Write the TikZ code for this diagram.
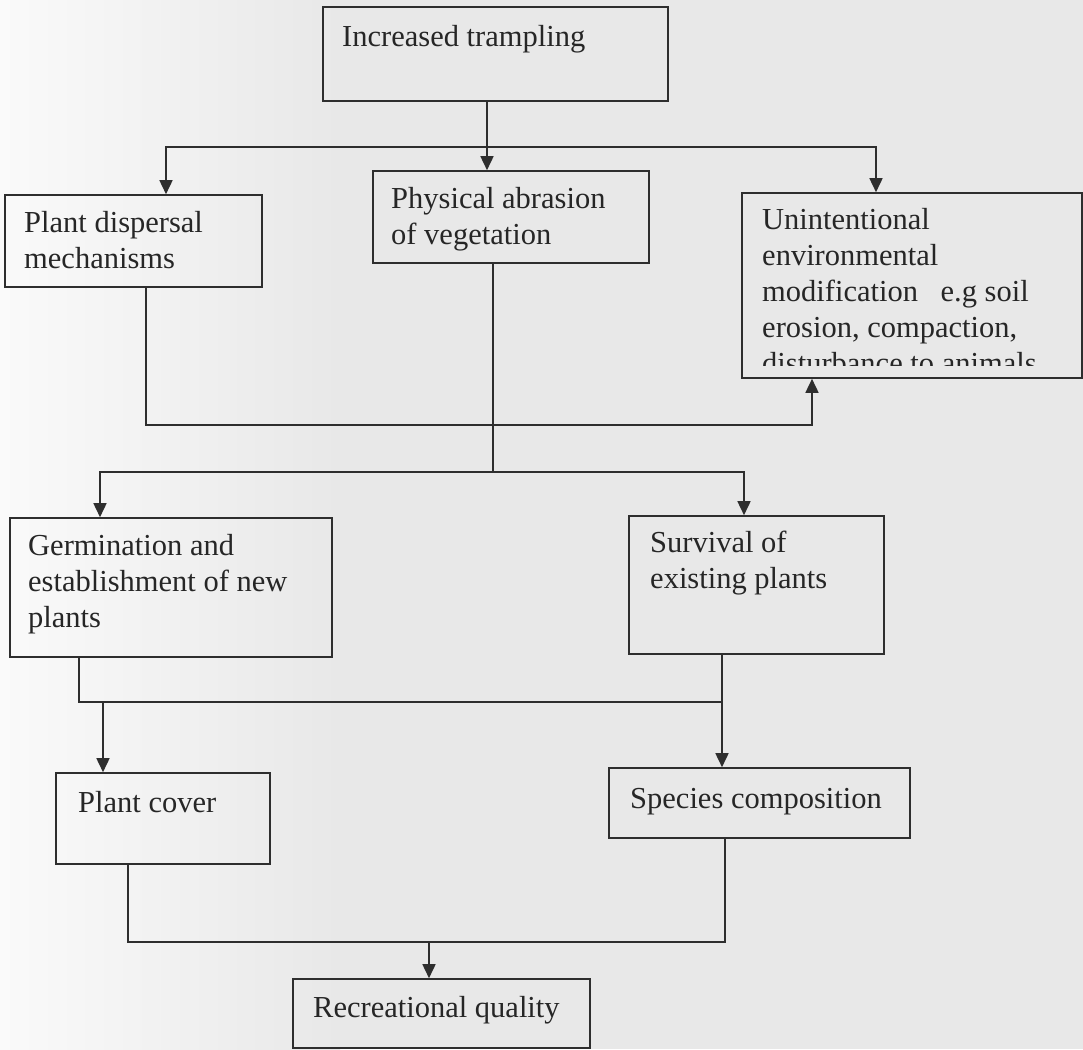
\documentclass[tikz,border=0pt]{standalone}
\usepackage{fontspec}
\setmainfont{Liberation Serif}
\usetikzlibrary{arrows.meta,fit}
\definecolor{bggray}{HTML}{E8E8E8}
\definecolor{bgwhite}{HTML}{FAFAFA}
\definecolor{inkc}{HTML}{2E2E2E}
\definecolor{textc}{HTML}{262626}
\tikzset{
  box/.style={draw=inkc, line width=1.6pt, inner sep=0pt, rectangle},
  txt/.style={font=\fontsize{30.5}{36}\selectfont, text=textc, inner sep=0pt, anchor=base west, align=left},
  conn/.style={draw=inkc, line width=1.6pt},
  arr/.style={conn, -{Triangle[width=13pt,length=14pt]}}
}
\begin{document}
\begin{tikzpicture}[x=1pt,y=-1pt]
\useasboundingbox (0,0) rectangle (1083,1049);
\fill[bggray] (0,0) rectangle (1083,1049);
\shade[left color=bgwhite, right color=bggray] (0,0) rectangle (340,1049);

% boxes
\node[box, fit={(323,7) (668,101)}] (inc) {};
\node[box, fit={(5,195) (262,287)}] (disp) {};
\node[box, fit={(373,171) (649,263)}] (phys) {};
\node[box, fit={(742,193) (1082,378)}] (unint) {};
\node[box, fit={(10,518) (332,657)}] (germ) {};
\node[box, fit={(629,516) (884,654)}] (surv) {};
\node[box, fit={(56,773) (270,864)}] (cover) {};
\node[box, fit={(609,768) (910,838)}] (species) {};
\node[box, fit={(293,979) (590,1048)}] (recr) {};

% texts (anchor = baseline of the last line)
\node[txt] (inc-t) at (342,46) {Increased trampling};
\node[txt] (disp-t) at (24,268) {Plant dispersal\\mechanisms};
\node[txt] (phys-t) at (391,244) {Physical abrasion\\of vegetation};
\begin{scope}
\clip (742,193) rectangle (1082,365);
\node[txt] (unint-t) at (762,373) {Unintentional\\environmental\\modification\hspace{15pt} e.g soil\\erosion, compaction,\\disturbance to animals};
\end{scope}
\node[txt] (germ-t) at (28,627) {Germination and\\establishment of new\\plants};
\node[txt] (surv-t) at (650,588) {Survival of\\existing plants};
\node[txt] (cover-t) at (78,812) {Plant cover};
\node[txt] (species-t) at (630,808) {Species composition};
\node[txt] (recr-t) at (313,1017) {Recreational quality};

% junctions
\coordinate (j1) at (487,147);
\coordinate (j1L) at (166,147);
\coordinate (j1R) at (876,147);
\coordinate (j2) at (146,425);
\coordinate (j2R) at (812,425);
\coordinate (j3) at (493,472);
\coordinate (j3L) at (100,472);
\coordinate (j3R) at (744,472);
\coordinate (j4L) at (79,702);
\coordinate (j4R) at (722,702);
\coordinate (j4A) at (103,702);
\coordinate (j5L) at (128,942);
\coordinate (j5R) at (725,942);
\coordinate (j5A) at (429,942);

% connectors
\draw[arr] (inc.south -| j1) -- (phys.north -| j1);
\draw[arr] (j1R) -- (j1L) -- (disp.north -| j1L);
\draw[arr] (j1L) -- (j1R) -- (unint.north -| j1R);

\draw[arr] (disp.south -| j2) -- (j2) -- (j2R) -- (unint.south -| j2R);

\draw[conn] (phys.south -| j3) -- (j3);
\draw[arr] (j3) -- (j3L) -- (germ.north -| j3L);
\draw[arr] (j3) -- (j3R) -- (surv.north -| j3R);

\draw[conn] (germ.south -| j4L) -- (j4L) -- (j4R);
\draw[arr] (surv.south -| j4R) -- (species.north -| j4R);
\draw[arr] (j4A) -- (cover.north -| j4A);

\draw[conn] (cover.south -| j5L) -- (j5L) -- (j5R) -- (species.south -| j5R);
\draw[arr] (j5A) -- (recr.north -| j5A);
\end{tikzpicture}
\end{document}
